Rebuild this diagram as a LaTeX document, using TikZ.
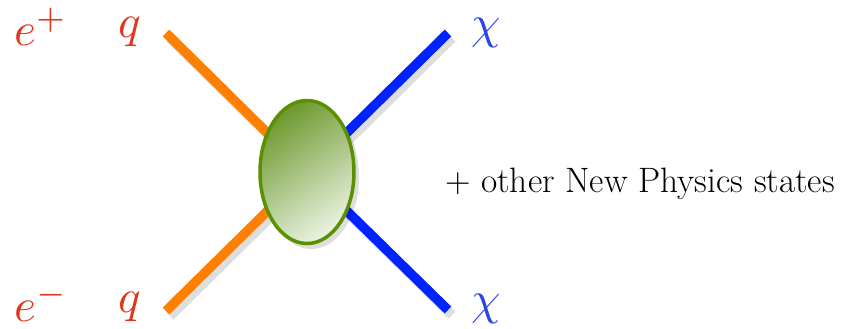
\documentclass[tikz,border=0pt]{standalone}
\usepackage{fontspec}
\usetikzlibrary{shapes.geometric}
\definecolor{lblred}{HTML}{E0361C}
\definecolor{qorange}{HTML}{FF7F00}
\definecolor{chiblue}{HTML}{0022FF}
\definecolor{chitext}{HTML}{2A44E6}
\definecolor{blobedge}{HTML}{5A9100}
\definecolor{blobdark}{HTML}{6E9A30}
\definecolor{bloblight}{HTML}{EAF2E0}
\newcommand{\biglbl}[1]{\scalebox{4.7}{$#1$}}
\begin{document}
\begin{tikzpicture}[x=1pt,y=-1pt,
  leg/.style={line width=9.5pt},
  legshadow/.style={line width=10pt,black,opacity=0.13},
  lbl/.style={inner sep=0pt,anchor=base west},
]
\useasboundingbox (0,0) rectangle (841,329);
\coordinate (ul) at (166,33);
\coordinate (ll) at (166,311);
\coordinate (ur) at (448,33);
\coordinate (lr) at (448,310);
\coordinate (c) at (307,172);
% shadows
\draw[legshadow] ([shift={(4,5)}]ul) -- ([shift={(4,5)}]c);
\draw[legshadow] ([shift={(4,5)}]ll) -- ([shift={(4,5)}]c);
\draw[legshadow] ([shift={(4,5)}]ur) -- ([shift={(4,5)}]c);
\draw[legshadow] ([shift={(4,5)}]lr) -- ([shift={(4,5)}]c);
\draw[leg,qorange] (ul) -- (c);
\draw[leg,qorange] (ll) -- (c);
\draw[leg,chiblue] (ur) -- (c);
\draw[leg,chiblue] (lr) -- (c);
\fill[black,opacity=0.13] (311,177) ellipse [x radius=48, y radius=72];
\node[ellipse,draw=blobedge,line width=3.5pt,minimum width=94pt,minimum height=143pt,
  top color=blobdark,bottom color=bloblight,shading angle=35] (blob) at (c) {};
\node[lbl,text=lblred] (ep) at (14,46) {\biglbl{e^+}};
\node[lbl,text=lblred] (q1) at (118,38) {\biglbl{q}};
\node[lbl,text=chitext] (x1) at (471,39) {\biglbl{\chi}};
\node[lbl,text=lblred] (em) at (14,321) {\biglbl{e^-}};
\node[lbl,text=lblred] (q2) at (118,312) {\biglbl{q}};
\node[lbl,text=chitext] (x2) at (471,314) {\biglbl{\chi}};
\node[inner sep=0pt,anchor=base west,font=\fontsize{35.3}{40}\selectfont] (txt) at (445,192) {+ other New Physics states};
\end{tikzpicture}
\end{document}
